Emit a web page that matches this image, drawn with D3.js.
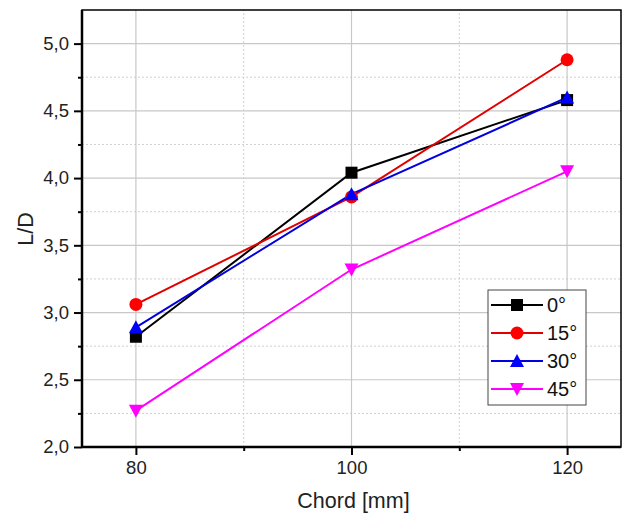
<!DOCTYPE html>
<html>
<head>
<meta charset="utf-8">
<script src="https://cdnjs.cloudflare.com/ajax/libs/d3/7.8.5/d3.min.js"></script>
<style>
    body { margin: 0; background: #fff; }
    svg { font-family: Arial, "Liberation Sans", sans-serif; }
</style>
</head>
<body>
<div id="chart"></div>
<script>
/*global d3*/
"use strict";

// Chord lengths [mm]
var chords = [80, 100, 120];

// L/D per pitch angle
var series0 = [2.82, 4.04, 4.58];
var series15 = [3.06, 3.86, 4.88];
var series30 = [2.89, 3.88, 4.60];
var series45 = [2.27, 3.32, 4.05];

var seriesNames = ["0°", "15°", "30°", "45°"];
var seriesColors = ["#000000", "#e00000", "#0000e0", "#ff00ff"];
var markerColors = ["#000000", "#ff0000", "#0000ff", "#ff00ff"];
var seriesMarkers = ["square", "circle", "triangle", "triangleDown"];

var xTicks = [80, 100, 120];
var xMinorTicks = [90, 110];
var yTicks = [2.0, 2.5, 3.0, 3.5, 4.0, 4.5, 5.0];
var yMinorTicks = [2.25, 2.75, 3.25, 3.75, 4.25, 4.75];

var width = 624, height = 517;
var margin = {left: 82, top: 10, right: 3, bottom: 70};

var svg = d3.select("#chart").append("svg")
    .attr("width", width)
    .attr("height", height);

var x = d3.scaleLinear().domain([75, 125]).range([margin.left, width - margin.right]);
var y = d3.scaleLinear().domain([2, 5.25]).range([height - margin.bottom, margin.top]);

var fmt = function (d) { return d3.format(".1f")(d).replace(".", ","); };

// grid: major solid, minor dotted
var grid = svg.append("g");
grid.selectAll(".ymaj").data(yTicks.slice(1)).enter().append("line")
    .attr("x1", x.range()[0]).attr("x2", x.range()[1])
    .attr("y1", y).attr("y2", y)
    .style("stroke", "#c8c8c8").style("stroke-width", 1.2);
grid.selectAll(".ymin").data(yMinorTicks).enter().append("line")
    .attr("x1", x.range()[0]).attr("x2", x.range()[1])
    .attr("y1", y).attr("y2", y)
    .style("stroke", "#d0d0d0").style("stroke-dasharray", "2,2");
grid.selectAll(".xmaj").data(xTicks).enter().append("line")
    .attr("y1", y.range()[0]).attr("y2", y.range()[1])
    .attr("x1", x).attr("x2", x)
    .style("stroke", "#c8c8c8").style("stroke-width", 1.2);
grid.selectAll(".xmin").data(xMinorTicks).enter().append("line")
    .attr("y1", y.range()[0]).attr("y2", y.range()[1])
    .attr("x1", x).attr("x2", x)
    .style("stroke", "#d0d0d0").style("stroke-dasharray", "2,2");

// axes
var xAxis = svg.append("g")
    .attr("transform", "translate(0," + y.range()[0] + ")")
    .call(d3.axisBottom(x).tickValues(xTicks).tickSize(8).tickPadding(6).tickFormat(d3.format("d")));
var xMinor = svg.append("g")
    .attr("transform", "translate(0," + y.range()[0] + ")")
    .call(d3.axisBottom(x).tickValues(xMinorTicks).tickSize(4).tickFormat(""));
var yAxis = svg.append("g")
    .attr("transform", "translate(" + x.range()[0] + ",0)")
    .call(d3.axisLeft(y).tickValues(yTicks).tickSize(8).tickPadding(5).tickFormat(fmt));
var yMinor = svg.append("g")
    .attr("transform", "translate(" + x.range()[0] + ",0)")
    .call(d3.axisLeft(y).tickValues(yMinorTicks).tickSize(4).tickFormat(""));

[xAxis, xMinor, yAxis, yMinor].forEach(function (g) {
    g.select(".domain").remove();
    g.selectAll(".tick line").style("stroke", "#000").style("stroke-width", 2);
    g.selectAll("text").style("font-size", "18.5px").style("fill", "#222");
});

// frame
svg.append("rect")
    .attr("x", x.range()[0]).attr("y", y.range()[1])
    .attr("width", x.range()[1] - x.range()[0])
    .attr("height", y.range()[0] - y.range()[1])
    .style("fill", "none").style("stroke", "#000").style("stroke-width", 1.5);
svg.append("line")
    .attr("x1", x.range()[0]).attr("x2", x.range()[1])
    .attr("y1", y.range()[0]).attr("y2", y.range()[0])
    .style("stroke", "#000").style("stroke-width", 2.5);
svg.append("line")
    .attr("x1", x.range()[0]).attr("x2", x.range()[0])
    .attr("y1", y.range()[0]).attr("y2", y.range()[1])
    .style("stroke", "#000").style("stroke-width", 2.5);

// axis titles
svg.append("text")
    .attr("x", (x.range()[0] + x.range()[1]) / 2 + 2)
    .attr("y", 508)
    .attr("text-anchor", "middle")
    .style("font-size", "21.5px").style("fill", "#222")
    .text("Chord [mm]");
svg.append("text")
    .attr("transform", "translate(33,229) rotate(-90)")
    .attr("text-anchor", "middle")
    .style("font-size", "21.5px").style("fill", "#222")
    .text("L/D");

// marker drawing
function drawMarker(g, type, cx, cy, color) {
    var s = 6;
    if (type === "square") {
        g.append("rect").attr("x", cx - s).attr("y", cy - s).attr("width", 2 * s).attr("height", 2 * s).style("fill", color);
    } else if (type === "circle") {
        g.append("circle").attr("cx", cx).attr("cy", cy).attr("r", s + 0.5).style("fill", color);
    } else if (type === "triangle") {
        g.append("path").attr("d", "M" + cx + "," + (cy - s - 1) + "L" + (cx + s + 1) + "," + (cy + s) + "L" + (cx - s - 1) + "," + (cy + s) + "Z").style("fill", color);
    } else {
        g.append("path").attr("d", "M" + cx + "," + (cy + s + 1) + "L" + (cx + s + 1) + "," + (cy - s) + "L" + (cx - s - 1) + "," + (cy - s) + "Z").style("fill", color);
    }
}

var allSeries = [series0, series15, series30, series45];
var line = d3.line().x(function (d) { return x(d[0]); }).y(function (d) { return y(d[1]); });

var plot = svg.append("g");
allSeries.forEach(function (vals, i) {
    var pts = chords.map(function (c, j) { return [c, vals[j]]; });
    plot.append("path").datum(pts)
        .attr("d", line)
        .style("fill", "none")
        .style("stroke", seriesColors[i])
        .style("stroke-width", 2);
});
allSeries.forEach(function (vals, i) {
    chords.forEach(function (c, j) {
        drawMarker(plot, seriesMarkers[i], x(c), y(vals[j]), markerColors[i]);
    });
});

// legend
var legend = svg.append("g").attr("transform", "translate(488,290)");
legend.append("rect")
    .attr("width", 98).attr("height", 115)
    .style("fill", "#fff").style("stroke", "#444").style("stroke-width", 1);
seriesNames.forEach(function (name, i) {
    var ly = 15 + i * 28;
    legend.append("line")
        .attr("x1", 3).attr("x2", 55).attr("y1", ly).attr("y2", ly)
        .style("stroke", seriesColors[i]).style("stroke-width", 2);
    drawMarker(legend, seriesMarkers[i], 29, ly, markerColors[i]);
    legend.append("text")
        .attr("x", 59).attr("y", ly + 7)
        .style("font-size", "20px").style("fill", "#111")
        .text(name);
});
</script>
</body>
</html>
